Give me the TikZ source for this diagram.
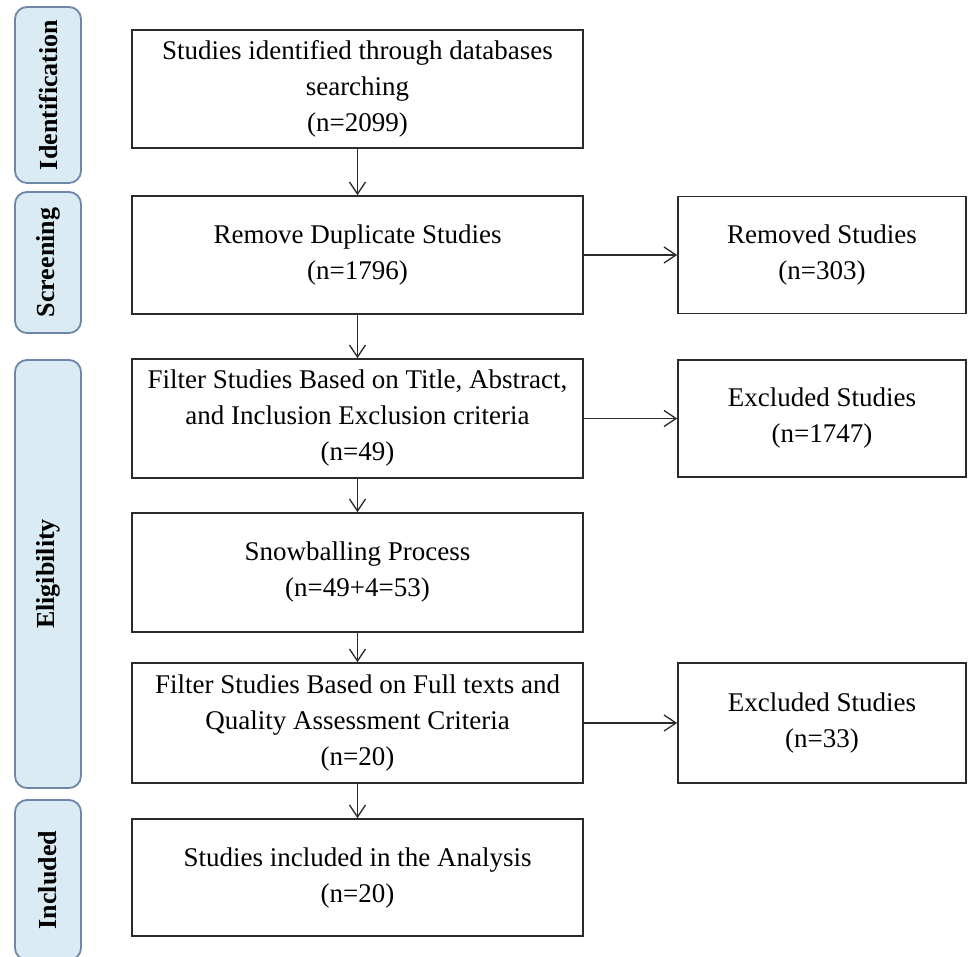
\documentclass[tikz,border=0pt]{standalone}
\usepackage{fontspec}
\setmainfont{Liberation Serif}
\usetikzlibrary{arrows.meta}
\definecolor{labfill}{HTML}{DAEBF3}
\definecolor{labdraw}{HTML}{6E87A6}
\definecolor{boxdraw}{HTML}{2B2B2B}
\begin{document}
\begin{tikzpicture}[x=1pt,y=-1pt,
  box/.style={draw=boxdraw, line width=1.6pt, align=center, inner sep=0pt,
    font=\fontsize{27}{36}\selectfont},
  mainbox/.style={box, minimum width=451pt},
  sidebox/.style={box, minimum width=288pt},
  lab/.style={draw=labdraw, fill=labfill, line width=1.8pt, rounded corners=12pt,
    inner sep=0pt, rotate=90, minimum height=66pt,
    font=\bfseries\fontsize{26}{30}\selectfont},
  arr/.style={draw=boxdraw, line width=1.3pt, -{Straight Barb[length=12pt,width=16pt]}}]
\useasboundingbox (0,0) rectangle (968,957);
\clip (0,0) rectangle (968,957);
\fill[white] (0,0) rectangle (968,957);

% stage labels
\node[lab, minimum width=176pt] (l1) at (48,95) {Identification};
\node[lab, minimum width=141pt] (l2) at (48,262.5) {Screening};
\node[lab, minimum width=428pt] (l3) at (48,574) {Eligibility};
\node[lab, minimum width=160pt] (l4) at (48,880) {Included};

% main column
\node[mainbox, minimum height=118pt] (b1) at (357.5,89) {Studies identified through databases\\searching\\(n=2099)};
\node[mainbox, minimum height=118pt] (b2) at (357.5,255) {Remove Duplicate Studies\\(n=1796)};
\node[mainbox, minimum height=119pt] (b3) at (357.5,418.5) {Filter Studies Based on Title, Abstract,\\and Inclusion Exclusion criteria\\(n=49)};
\node[mainbox, minimum height=119pt] (b4) at (357.5,572.5) {Snowballing Process\\(n=49+4=53)};
\node[mainbox, minimum height=120pt] (b5) at (357.5,723) {Filter Studies Based on Full texts and\\Quality Assessment Criteria\\(n=20)};
\node[mainbox, minimum height=117pt] (b6) at (357.5,877.5) {Studies included in the Analysis\\(n=20)};

% side column
\node[sidebox, minimum height=117pt] (r1) at (822,255) {Removed Studies\\(n=303)};
\node[sidebox, minimum height=117pt] (r2) at (822,418.5) {Excluded Studies\\(n=1747)};
\node[sidebox, minimum height=120pt] (r3) at (822,723) {Excluded Studies\\(n=33)};

% connectors
\draw[arr] (b1) -- (b2);
\draw[arr] (b2) -- (b3);
\draw[arr] (b3) -- (b4);
\draw[arr] (b4) -- (b5);
\draw[arr] (b5) -- (b6);
\draw[arr] (b2) -- (r1);
\draw[arr] (b3) -- (r2);
\draw[arr] (b5) -- (r3);
\end{tikzpicture}
\end{document}
